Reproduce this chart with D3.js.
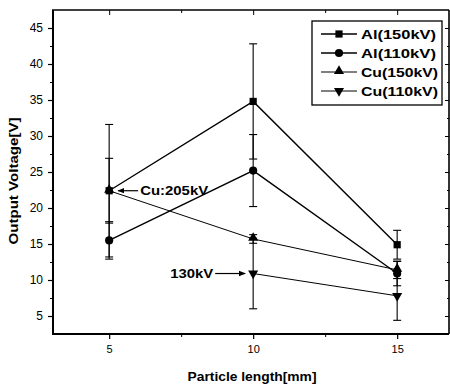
<!DOCTYPE html>
<html>
<head>
<meta charset="utf-8">
<script src="https://cdn.jsdelivr.net/npm/d3@7"></script>
<style>
  html, body { margin: 0; padding: 0; background: #fff; }
  svg { display: block; font-family: "Liberation Sans", Arial, sans-serif; }
</style>
</head>
<body>
<svg id="chart" width="450" height="387"></svg>
<script>
// Particle length (mm)
const lengths = [5, 10, 15];

// Output voltage (V) per series; null where no measurement exists
const al150 = [22.4, 34.8, 14.9];
const al110 = [15.5, 25.2, 10.9];
const cu150 = [22.4, 15.7, 11.4];
const cu110 = [null, 10.9, 7.8];

// Error bar half-widths (V)
const al150Err = [9.2, 8.0, 2.0];
const al110Err = [2.6, 5.0, 1.7];
const cu150Err = [4.5, 0.6, 1.2];
const cu110Err = [null, 4.9, 3.4];

const seriesNames = ["Al(150kV)", "Al(110kV)", "Cu(150kV)", "Cu(110kV)"];
const markerKinds = ["square", "circle", "triangle", "triangleDown"];

const yTicks = [5, 10, 15, 20, 25, 30, 35, 40, 45];
const yMinor = [7.5, 12.5, 17.5, 22.5, 27.5, 32.5, 37.5, 42.5];
const xTicks = [5, 10, 15];
const xMinor = [7.5, 12.5];

const annotations = [
  { text: "Cu:205kV", x: 5, y: 22.4, side: "right" },
  { text: "130kV", x: 10, y: 10.9, side: "left" }
];

const svg = d3.select("#chart");
const L = 53, R = 449, T = 10, B = 334;

const x = d3.scaleLinear().domain([3.05, 16.8]).range([L, R]);
const y = d3.scaleLinear().domain([2.5, 47.5]).range([B, T]);

// Frame
const frame = svg.append("g");
frame.append("line").attr("x1", L).attr("x2", L).attr("y1", T).attr("y2", B + 1)
  .attr("stroke", "#000").attr("stroke-width", 2);
frame.append("line").attr("x1", L - 1).attr("x2", R).attr("y1", B).attr("y2", B)
  .attr("stroke", "#000").attr("stroke-width", 2);
frame.append("line").attr("x1", L - 1).attr("x2", R).attr("y1", T).attr("y2", T)
  .attr("stroke", "#000").attr("stroke-width", 1.6);
frame.append("line").attr("x1", R).attr("x2", R).attr("y1", T).attr("y2", B)
  .attr("stroke", "#000").attr("stroke-width", 1.6);

// Left axis
const yAxis = d3.axisLeft(y).tickValues(yTicks).tickSize(5).tickPadding(5).tickFormat(d3.format("d"));
const gy = svg.append("g").attr("transform", `translate(${L},0)`).call(yAxis);
gy.select(".domain").remove();
gy.selectAll("text").attr("font-size", 12).attr("fill", "#000");
gy.selectAll("line").attr("stroke-width", 1.2);
svg.append("g").attr("transform", `translate(${L},0)`)
  .call(d3.axisLeft(y).tickValues(yMinor).tickSize(3).tickFormat(""))
  .call(g => g.select(".domain").remove());

// Bottom axis
const xAxis = d3.axisBottom(x).tickValues(xTicks).tickSize(5).tickPadding(6).tickFormat(d3.format("d"));
const gx = svg.append("g").attr("transform", `translate(0,${B})`).call(xAxis);
gx.select(".domain").remove();
gx.selectAll("text").attr("font-size", 11).attr("fill", "#000");
gx.selectAll("line").attr("stroke-width", 1.2);
svg.append("g").attr("transform", `translate(0,${B})`)
  .call(d3.axisBottom(x).tickValues(xMinor).tickSize(3).tickFormat(""))
  .call(g => g.select(".domain").remove());

// Mirror ticks on top and right edges, pointing inward
svg.append("g").attr("transform", `translate(0,${T})`)
  .call(d3.axisBottom(x).tickValues(xTicks).tickSize(5).tickFormat(""))
  .call(g => g.select(".domain").remove());
svg.append("g").attr("transform", `translate(0,${T})`)
  .call(d3.axisBottom(x).tickValues(xMinor).tickSize(3).tickFormat(""))
  .call(g => g.select(".domain").remove());
svg.append("g").attr("transform", `translate(${R},0)`)
  .call(d3.axisLeft(y).tickValues(yTicks).tickSize(4).tickFormat(""))
  .call(g => g.select(".domain").remove());
svg.append("g").attr("transform", `translate(${R},0)`)
  .call(d3.axisLeft(y).tickValues(yMinor).tickSize(2).tickFormat(""))
  .call(g => g.select(".domain").remove());

// Axis titles (wide bold lettering)
svg.append("text")
  .attr("transform", `translate(18,${(T + B) / 2 + 9}) rotate(-90)`)
  .attr("text-anchor", "middle").attr("font-size", 12.5).attr("font-weight", "bold")
  .attr("textLength", 127).attr("lengthAdjust", "spacingAndGlyphs")
  .text("Output Voltage[V]");
svg.append("text")
  .attr("x", 252).attr("y", 381)
  .attr("text-anchor", "middle").attr("font-size", 12.5).attr("font-weight", "bold")
  .attr("textLength", 129).attr("lengthAdjust", "spacingAndGlyphs")
  .text("Particle length[mm]");

// Marker symbols
const symbolFor = {
  square: d3.symbol().type(d3.symbolSquare).size(52),
  circle: d3.symbol().type(d3.symbolCircle).size(52),
  triangle: d3.symbol().type(d3.symbolTriangle).size(44),
  triangleDown: d3.symbol().type(d3.symbolTriangle).size(44)
};
function drawMarker(g, kind, cx, cy) {
  const p = g.append("path").attr("d", symbolFor[kind]()).attr("fill", "#000");
  if (kind === "triangleDown") p.attr("transform", `translate(${cx},${cy}) rotate(180)`);
  else if (kind === "triangle") p.attr("transform", `translate(${cx},${cy - 1})`);
  else p.attr("transform", `translate(${cx},${cy})`);
}

const allValues = [al150, al110, cu150, cu110];
const allErrs = [al150Err, al110Err, cu150Err, cu110Err];
const lineWidths = [1.4, 1.4, 1.0, 1.0];

const plot = svg.append("g");

// Error bars
allValues.forEach((vals, si) => {
  vals.forEach((v, i) => {
    const e = allErrs[si][i];
    if (v == null || e == null) return;
    const cx = x(lengths[i]);
    plot.append("line").attr("x1", cx).attr("x2", cx)
      .attr("y1", y(v - e)).attr("y2", y(v + e))
      .attr("stroke", "#000").attr("stroke-width", 1.1);
    [v - e, v + e].forEach(t => {
      plot.append("line").attr("x1", cx - 4).attr("x2", cx + 4)
        .attr("y1", y(t)).attr("y2", y(t))
        .attr("stroke", "#000").attr("stroke-width", 1.1);
    });
  });
});

// Series lines and markers
allValues.forEach((vals, si) => {
  const pts = lengths.map((l, i) => [l, vals[i]]).filter(d => d[1] != null);
  const line = d3.line().x(d => x(d[0])).y(d => y(d[1]));
  plot.append("path").attr("d", line(pts))
    .attr("fill", "none").attr("stroke", "#000").attr("stroke-width", lineWidths[si]);
  pts.forEach(d => drawMarker(plot, markerKinds[si], x(d[0]), y(d[1])));
});

// Arrow head
svg.append("defs").append("marker")
  .attr("id", "arrow").attr("viewBox", "0 0 10 10").attr("refX", 9).attr("refY", 5)
  .attr("markerWidth", 7).attr("markerHeight", 7).attr("orient", "auto-start-reverse")
  .attr("markerUnits", "userSpaceOnUse")
  .append("path").attr("d", "M0,1 L10,5 L0,9 Z").attr("fill", "#000");

// Annotations
annotations.forEach(a => {
  const px = x(a.x), py = y(a.y);
  if (a.side === "right") {
    svg.append("line").attr("x1", px + 29).attr("x2", px + 9).attr("y1", py).attr("y2", py)
      .attr("stroke", "#000").attr("stroke-width", 1.2).attr("marker-end", "url(#arrow)");
    svg.append("text").attr("x", px + 31).attr("y", py + 4.5)
      .attr("font-size", 12).attr("font-weight", "bold")
      .attr("textLength", 68).attr("lengthAdjust", "spacingAndGlyphs")
      .text(a.text);
  } else {
    svg.append("line").attr("x1", px - 38).attr("x2", px - 8).attr("y1", py).attr("y2", py)
      .attr("stroke", "#000").attr("stroke-width", 1.2).attr("marker-end", "url(#arrow)");
    svg.append("text").attr("x", px - 83).attr("y", py + 4.5)
      .attr("font-size", 12).attr("font-weight", "bold")
      .attr("textLength", 43).attr("lengthAdjust", "spacingAndGlyphs")
      .text(a.text);
  }
});

// Legend
const lg = svg.append("g");
lg.append("rect").attr("x", 312).attr("y", 21).attr("width", 130).attr("height", 84)
  .attr("fill", "#fff").attr("stroke", "#000").attr("stroke-width", 1.3);
seriesNames.forEach((name, i) => {
  const ly = 34 + i * 19;
  lg.append("line").attr("x1", 321).attr("x2", 357).attr("y1", ly).attr("y2", ly)
    .attr("stroke", "#000").attr("stroke-width", lineWidths[i]);
  drawMarker(lg, markerKinds[i], 339, ly);
  lg.append("text").attr("x", 361).attr("y", ly + 4.5)
    .attr("font-size", 12).attr("font-weight", "bold")
    .attr("textLength", name.startsWith("Cu") ? 77 : 75).attr("lengthAdjust", "spacingAndGlyphs")
    .text(name);
});
</script>
</body>
</html>
